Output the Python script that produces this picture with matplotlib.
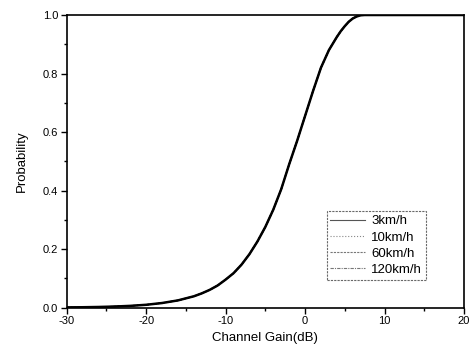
import matplotlib
matplotlib.use("Agg")
import matplotlib.pyplot as plt
from matplotlib.lines import Line2D
from matplotlib.ticker import MultipleLocator, FormatStrFormatter

plt.rcParams['font.family'] = ['Liberation Sans', 'DejaVu Sans']
plt.rcParams['axes.unicode_minus'] = False

gain_db = [-30, -28, -26, -24, -22, -20, -18, -16, -14, -13, -12, -11, -10, -9, -8,
           -7, -6, -5, -4, -3, -2, -1, 0, 1, 2, 3, 4, 4.5, 5, 5.5, 6, 6.5, 7, 7.5, 8,
           10, 15, 20]
prob_3 = [0.001, 0.0016, 0.0025, 0.004, 0.0063, 0.010, 0.016, 0.025, 0.039, 0.049,
          0.061, 0.076, 0.096, 0.118, 0.147, 0.183, 0.226, 0.276, 0.335, 0.405, 0.49,
          0.57, 0.655, 0.74, 0.82, 0.88, 0.925, 0.945, 0.962, 0.977, 0.988, 0.995,
          0.999, 1.0, 1.0, 1.0, 1.0, 1.0]
prob_10 = list(prob_3)
prob_60 = list(prob_3)
prob_120 = list(prob_3)
labels = ["3km/h", "10km/h", "60km/h", "120km/h"]

fig = plt.figure(figsize=(4.72, 3.53), dpi=100)
ax = fig.add_axes([0.1413, 0.1283, 0.8417, 0.8292])

ax.plot(gain_db, prob_3, color='black', lw=1.8, solid_capstyle='round', solid_joinstyle='round')
ax.plot(gain_db, prob_10, color='black', lw=1.0, ls=':')
ax.plot(gain_db, prob_60, color='black', lw=1.0, ls=(0, (2, 1)))
ax.plot(gain_db, prob_120, color='black', lw=1.0, ls='-.')

ax.set_xlim(-30, 20)
ax.set_ylim(0, 1.0)
ax.xaxis.set_major_locator(MultipleLocator(10))
ax.xaxis.set_minor_locator(MultipleLocator(5))
ax.yaxis.set_major_locator(MultipleLocator(0.2))
ax.yaxis.set_minor_locator(MultipleLocator(0.1))
ax.yaxis.set_major_formatter(FormatStrFormatter('%.1f'))
ax.tick_params(which='major', direction='out', length=4, width=1, labelsize=8, pad=2)
ax.tick_params(which='minor', direction='out', length=2.5, width=1)
for s in ax.spines.values():
    s.set_linewidth(1.2)

ax.set_xlabel("Channel Gain(dB)", fontsize=9.5, labelpad=4)
ax.set_ylabel("Probability", fontsize=9.5, labelpad=11)

handles = [Line2D([], [], color='#555555', lw=0.8, ls='-'),
           Line2D([], [], color='#888888', lw=0.8, ls=':'),
           Line2D([], [], color='#777777', lw=0.8, ls=(0, (2, 1))),
           Line2D([], [], color='#777777', lw=0.8, ls=(0, (3, 1, 1, 1)))]
leg = ax.legend(handles, labels, loc='lower right', bbox_to_anchor=(0.905, 0.095),
                fontsize=9.5, frameon=True, fancybox=False, handlelength=2.6,
                handletextpad=0.5, labelspacing=0.3, borderpad=0.3,
                borderaxespad=0)
leg.get_frame().set_edgecolor('#444444')
leg.get_frame().set_linewidth(0.8)
leg.get_frame().set_linestyle((0, (2, 1)))

fig.savefig("out.png", dpi=100)
